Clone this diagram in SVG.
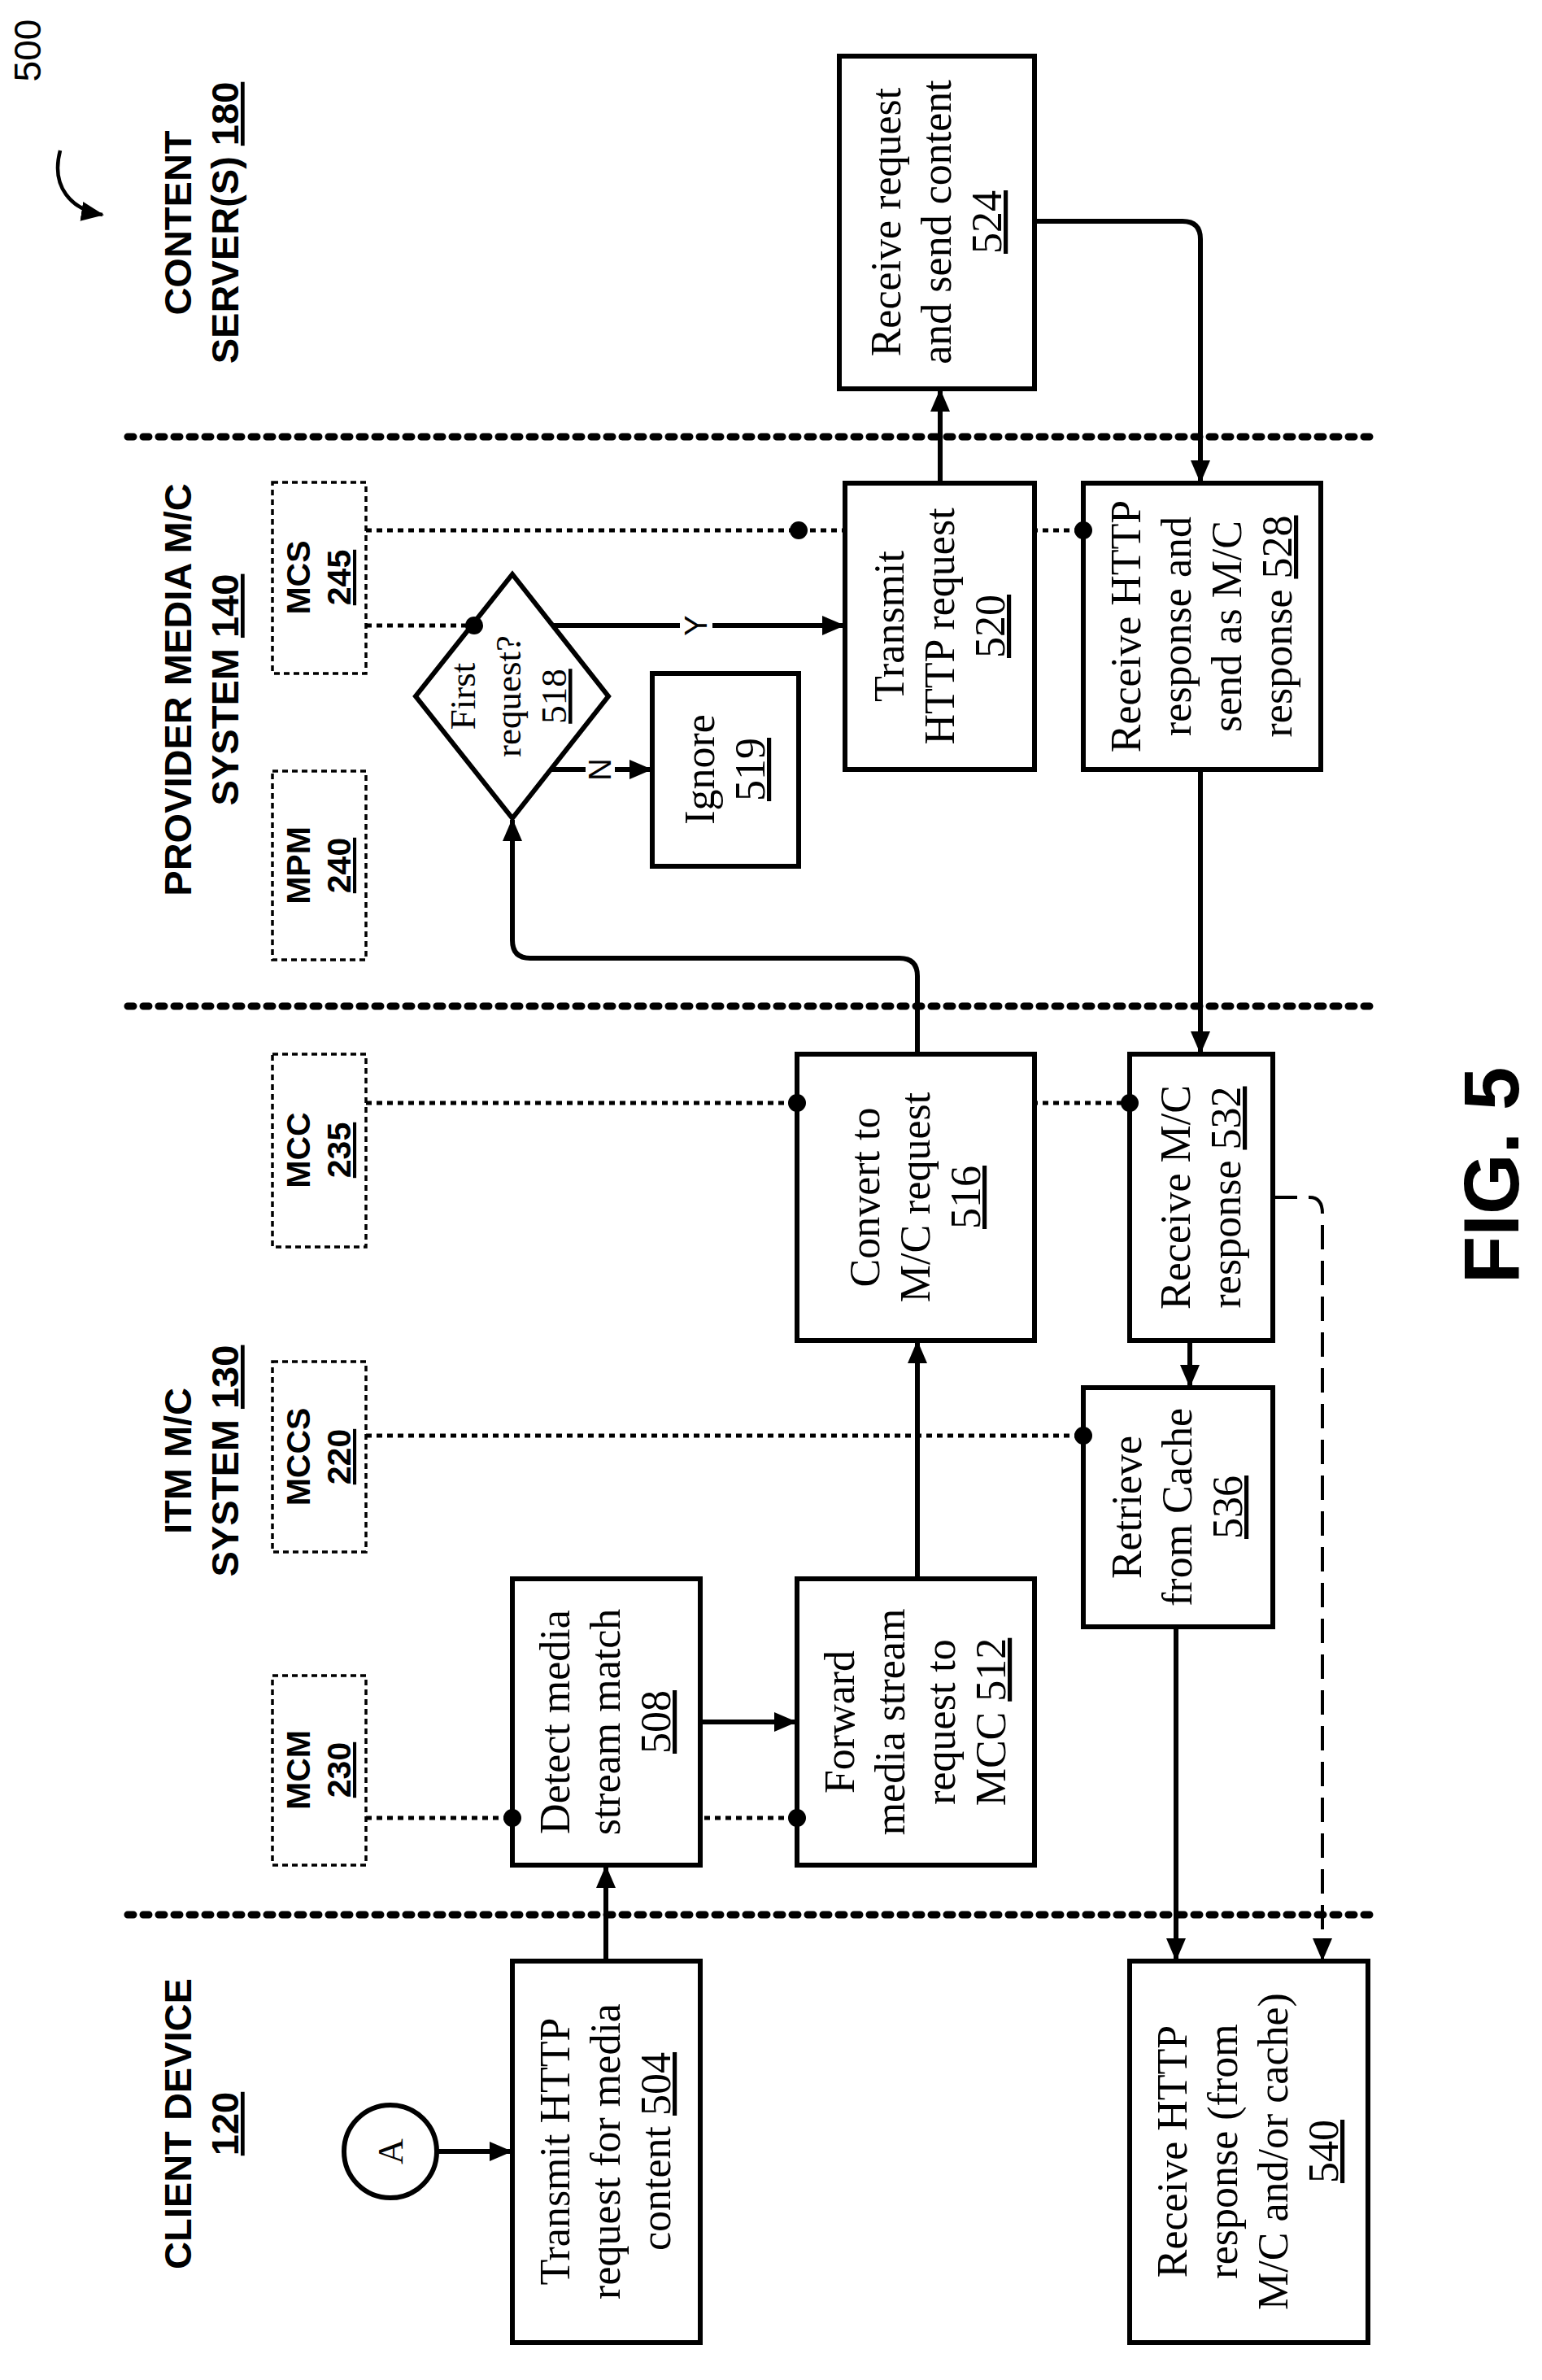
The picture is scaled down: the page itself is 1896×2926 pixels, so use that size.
<svg xmlns="http://www.w3.org/2000/svg" width="1896" height="2926" viewBox="0 0 1896 2926">
<style>
.box{fill:#fff;stroke:#000;stroke-width:6}
.comp{fill:#fff;stroke:#000;stroke-width:3.5;stroke-dasharray:7 5}
.sep{stroke:#000;stroke-width:9;stroke-dasharray:7 12;stroke-linecap:round;fill:none}
.dot{stroke:#000;stroke-width:5;stroke-dasharray:7 6;fill:none}
.arr{stroke:#000;stroke-width:6;fill:none;marker-end:url(#ah)}
.t{font-family:"Liberation Serif",serif;font-size:52px;text-anchor:middle}
.h{font-family:"Liberation Sans",Arial,sans-serif;font-weight:bold;font-size:47px;text-anchor:middle}
.c{font-family:"Liberation Sans",Arial,sans-serif;font-weight:bold;font-size:41px;text-anchor:middle}
.u{text-decoration:underline}
</style>
<defs>
<marker id="ah" markerUnits="userSpaceOnUse" markerWidth="28" markerHeight="28" viewBox="0 0 28 28" refX="26" refY="14" orient="auto"><path d="M0 2 L28 14 L0 26 Z" fill="#000"/></marker>
</defs>
<rect width="1896" height="2926" fill="#fff"/>
<g id="title">
<text transform="translate(50,62) rotate(-90)" style="font-family:'Liberation Sans',sans-serif;font-size:46px;text-anchor:middle">500</text>
<path d="M74 185 C62 230 88 258 126 264" class="arr" style="stroke-width:4.5"/>
<text transform="translate(1833,1445) rotate(-90)" style="font-family:'Liberation Sans',sans-serif;font-weight:bold;font-size:96px;text-anchor:middle" y="34">FIG. 5</text>
</g>
<g id="lanes">
<line x1="157" y1="537" x2="1689" y2="537" class="sep"/>
<line x1="157" y1="1237" x2="1689" y2="1237" class="sep"/>
<line x1="157" y1="2354" x2="1689" y2="2354" class="sep"/>
<text class="h" transform="translate(248,274) rotate(-90)"><tspan x="0" y="-13">CONTENT</tspan><tspan x="0" y="45">SERVER(S) <tspan class="u">180</tspan></tspan></text>
<text class="h" transform="translate(248,848) rotate(-90)"><tspan x="0" y="-13">PROVIDER MEDIA M/C</tspan><tspan x="0" y="45">SYSTEM <tspan class="u">140</tspan></tspan></text>
<text class="h" transform="translate(248,1796) rotate(-90)"><tspan x="0" y="-13">ITM M/C</tspan><tspan x="0" y="45">SYSTEM <tspan class="u">130</tspan></tspan></text>
<text class="h" transform="translate(248,2611) rotate(-90)"><tspan x="0" y="-13">CLIENT DEVICE</tspan><tspan x="0" y="45" class="u">120</tspan></text>
</g>
<g id="connectors">
<line x1="450" y1="652" x2="1332" y2="652" class="dot"/>
<line x1="450" y1="769" x2="583" y2="769" class="dot"/>
<line x1="450" y1="1356" x2="1389" y2="1356" class="dot"/>
<line x1="450" y1="1765" x2="1332" y2="1765" class="dot"/>
<line x1="450" y1="2235" x2="980" y2="2235" class="dot"/>
<path d="M1565 1472 H1610 Q1626 1472 1626 1492 V2409" style="stroke:#000;stroke-width:4;stroke-dasharray:30 14;fill:none;marker-end:url(#ah)"/>
<line x1="1156" y1="594" x2="1156" y2="480" class="arr"/>
<path d="M1272 272 H1454 Q1476 272 1476 294 V592" class="arr"/>
<path d="M680 769 L1037 769" class="arr"/>
<path d="M677 946 L800 946" class="arr"/>
<path d="M1128 1296 V1200 Q1128 1178 1106 1178 H652 Q630 1178 630 1156 V1008" class="arr"/>
<line x1="1476" y1="946" x2="1476" y2="1294" class="arr"/>
<line x1="1128" y1="1941" x2="1128" y2="1650" class="arr"/>
<line x1="861" y1="2117" x2="978" y2="2117" class="arr"/>
<line x1="1463" y1="1648" x2="1463" y2="1704" class="arr"/>
<line x1="1446" y1="2000" x2="1446" y2="2409" class="arr"/>
<line x1="745" y1="2411" x2="745" y2="2295" class="arr"/>
<line x1="537" y1="2645" x2="628" y2="2645" class="arr"/>
<rect x="836" y="746" width="40" height="46" fill="#fff"/>
<text transform="translate(856,769) rotate(-90)" style="font-family:'Liberation Sans',sans-serif;font-size:38px;text-anchor:middle" y="13">Y</text>
<rect x="720" y="926" width="36" height="40" fill="#fff"/>
<text transform="translate(738,946) rotate(-90)" style="font-family:'Liberation Sans',sans-serif;font-size:38px;text-anchor:middle" y="13">N</text>
</g>
<g id="MCS"><rect x="335" y="593" width="115" height="235" class="comp"/><text class="c" transform="translate(392,710) rotate(-90)"><tspan x="0" y="-11">MCS</tspan><tspan x="0" y="39" class="u">245</tspan></text></g>
<g id="MPM"><rect x="335" y="948" width="115" height="232" class="comp"/><text class="c" transform="translate(392,1064) rotate(-90)"><tspan x="0" y="-11">MPM</tspan><tspan x="0" y="39" class="u">240</tspan></text></g>
<g id="MCC"><rect x="335" y="1296" width="115" height="237" class="comp"/><text class="c" transform="translate(392,1414) rotate(-90)"><tspan x="0" y="-11">MCC</tspan><tspan x="0" y="39" class="u">235</tspan></text></g>
<g id="MCCS"><rect x="335" y="1674" width="115" height="234" class="comp"/><text class="c" transform="translate(392,1791) rotate(-90)"><tspan x="0" y="-11">MCCS</tspan><tspan x="0" y="39" class="u">220</tspan></text></g>
<g id="MCM"><rect x="335" y="2060" width="115" height="233" class="comp"/><text class="c" transform="translate(392,2176) rotate(-90)"><tspan x="0" y="-11">MCM</tspan><tspan x="0" y="39" class="u">230</tspan></text></g>
<g id="n524"><rect x="1032" y="69" width="240" height="409" class="box"/><text class="t" transform="translate(1152,273) rotate(-90)"><tspan x="0" y="-45">Receive request</tspan><tspan x="0" y="17">and send content</tspan><tspan x="0" y="79" class="u">524</tspan></text></g>
<g id="n520"><rect x="1039" y="594" width="233" height="352" class="box"/><text class="t" transform="translate(1156,770) rotate(-90)"><tspan x="0" y="-45">Transmit</tspan><tspan x="0" y="17">HTTP request</tspan><tspan x="0" y="79" class="u">520</tspan></text></g>
<g id="n528"><rect x="1332" y="594" width="292" height="352" class="box"/><text class="t" transform="translate(1478,770) rotate(-90)"><tspan x="0" y="-76">Receive HTTP</tspan><tspan x="0" y="-14">response and</tspan><tspan x="0" y="48">send as M/C</tspan><tspan x="0" y="110">response <tspan class="u">528</tspan></tspan></text></g>
<g id="n518"><polygon points="630,706 748,856 630,1006 511,856" class="box"/><text class="t" style="font-size:45px" transform="translate(626,856) rotate(-90)"><tspan x="0" y="-42">First</tspan><tspan x="0" y="14">request?</tspan><tspan x="0" y="70" class="u">518</tspan></text></g>
<g id="n519"><rect x="802" y="828" width="180" height="237" class="box"/><text class="t" transform="translate(892,946) rotate(-90)"><tspan x="0" y="-14">Ignore</tspan><tspan x="0" y="48" class="u">519</tspan></text></g>
<g id="n516"><rect x="980" y="1296" width="292" height="352" class="box"/><text class="t" transform="translate(1126,1472) rotate(-90)"><tspan x="0" y="-45">Convert to</tspan><tspan x="0" y="17">M/C request</tspan><tspan x="0" y="79" class="u">516</tspan></text></g>
<g id="n532"><rect x="1389" y="1296" width="176" height="352" class="box"/><text class="t" transform="translate(1477,1472) rotate(-90)"><tspan x="0" y="-14">Receive M/C</tspan><tspan x="0" y="48">response <tspan class="u">532</tspan></tspan></text></g>
<g id="n536"><rect x="1332" y="1706" width="233" height="294" class="box"/><text class="t" transform="translate(1448,1853) rotate(-90)"><tspan x="0" y="-45">Retrieve</tspan><tspan x="0" y="17">from Cache</tspan><tspan x="0" y="79" class="u">536</tspan></text></g>
<g id="n508"><rect x="630" y="1941" width="231" height="352" class="box"/><text class="t" transform="translate(745,2117) rotate(-90)"><tspan x="0" y="-45">Detect media</tspan><tspan x="0" y="17">stream match</tspan><tspan x="0" y="79" class="u">508</tspan></text></g>
<g id="n512"><rect x="980" y="1941" width="292" height="352" class="box"/><text class="t" transform="translate(1126,2117) rotate(-90)"><tspan x="0" y="-76">Forward</tspan><tspan x="0" y="-14">media stream</tspan><tspan x="0" y="48">request to</tspan><tspan x="0" y="110">MCC <tspan class="u">512</tspan></tspan></text></g>
<g id="nA"><circle cx="480" cy="2645" r="57" class="box"/><text class="t" style="font-size:44px" transform="translate(480,2645) rotate(-90)" y="15">A</text></g>
<g id="n504"><rect x="630" y="2411" width="231" height="469" class="box"/><text class="t" transform="translate(745,2645) rotate(-90)"><tspan x="0" y="-45">Transmit HTTP</tspan><tspan x="0" y="17">request for media</tspan><tspan x="0" y="79">content <tspan class="u">504</tspan></tspan></text></g>
<g id="n540"><rect x="1389" y="2411" width="293" height="469" class="box"/><text class="t" transform="translate(1535,2645) rotate(-90)"><tspan x="0" y="-76">Receive HTTP</tspan><tspan x="0" y="-14">response (from</tspan><tspan x="0" y="48">M/C and/or cache)</tspan><tspan x="0" y="110" class="u">540</tspan></text></g>
<g id="junctions" fill="#000">
<circle cx="982" cy="652" r="11"/><circle cx="1332" cy="652" r="11"/><circle cx="583" cy="769" r="11"/>
<circle cx="980" cy="1356" r="11"/><circle cx="1389" cy="1356" r="11"/><circle cx="1332" cy="1765" r="11"/>
<circle cx="630" cy="2235" r="11"/><circle cx="980" cy="2235" r="11"/>
</g>
</svg>
